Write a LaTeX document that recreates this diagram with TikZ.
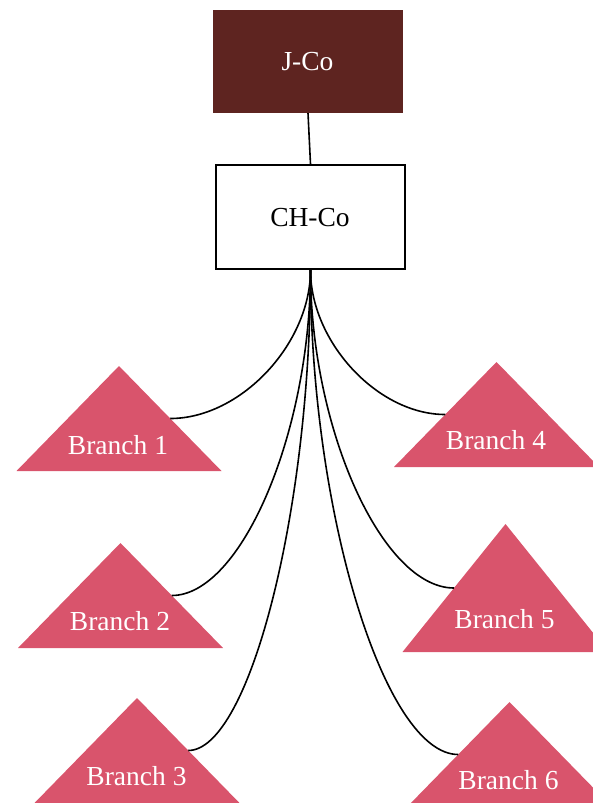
\documentclass[tikz,border=0pt]{standalone}
\usepackage{fontspec}
\setmainfont{Liberation Serif}
\usetikzlibrary{calc}

\definecolor{jcofill}{HTML}{5E2420}
\definecolor{branchfill}{HTML}{D9546C}

\tikzset{
  label font/.style={font=\fontsize{27.5}{31}\selectfont, inner sep=0pt, anchor=base},
  topbox/.style={fill=jcofill, minimum width=190pt, minimum height=103pt, inner sep=0pt},
  midbox/.style={draw=black, line width=1.8pt, fill=white, minimum width=189pt, minimum height=104pt, inner sep=0pt},
  branchtri/.style={fill=branchfill},
  branchtext/.style={label font, text=white},
  boxtext/.style={label font},
  link/.style={line width=1.6pt, draw=black},
  % quarter-ellipse-like link: leaves vertically, arrives horizontally
  bend link/.style={to path={
    .. controls ($(\tikztostart)!0.5!(\tikztostart |- \tikztotarget)$)
    and ($(\tikztotarget)!0.5!(\tikztostart |- \tikztotarget)$) .. (\tikztotarget)}}
}

\begin{document}
\begin{tikzpicture}[x=1pt, y=-1pt]
  \useasboundingbox (0,0) rectangle (593,803);

  % top boxes
  \node[topbox] (jco) at (308,61.5) {};
  \node[boxtext, text=white] (jcotext) at (307.5,70.5) {J-Co};
  \node[midbox] (chco) at (310.5,217) {};
  \node[boxtext] (chcotext) at (310,226.5) {CH-Co};

  \draw[link] (jco.south) -- (chco.north);

  % triangle apexes
  \coordinate (t1) at (119,366);
  \coordinate (t2) at (120.5,543);
  \coordinate (t3) at (137,698);
  \coordinate (t4) at (496.5,362);
  \coordinate (t5) at (505.5,524);
  \coordinate (t6) at (509.5,702);

  % triangles
  \fill[branchtri] (t1) -- ++(102.5,105) -- ++(-205,0) -- cycle;
  \fill[branchtri] (t2) -- ++(102.5,105) -- ++(-205,0) -- cycle;
  \fill[branchtri] (t3) -- ++(102.5,105) -- ++(-205,0) -- cycle;
  \fill[branchtri] (t4) -- ++(102.5,105) -- ++(-205,0) -- cycle;
  \fill[branchtri] (t5) -- ++(103,128) -- ++(-206,0) -- cycle;
  \fill[branchtri] (t6) -- ++(102.5,105) -- ++(-205,0) -- cycle;

  % link ends: middle of each triangle's inner side
  \coordinate (a1) at ($(t1)+(51.25,52.5)$);
  \coordinate (a2) at ($(t2)+(51.25,52.5)$);
  \coordinate (a3) at ($(t3)+(51.25,52.5)$);
  \coordinate (a4) at ($(t4)+(-51.25,52.5)$);
  \coordinate (a5) at ($(t5)+(-51.5,64)$);
  \coordinate (a6) at ($(t6)+(-51.25,52.5)$);

  % labels
  \node[branchtext] (b1) at (118,454) {Branch 1};
  \node[branchtext] (b2) at (120,630) {Branch 2};
  \node[branchtext] (b3) at (136.5,785) {Branch 3};
  \node[branchtext] (b4) at (496,449) {Branch 4};
  \node[branchtext] (b5) at (504.5,628) {Branch 5};
  \node[branchtext] (b6) at (508.5,789) {Branch 6};

  % links from CH-Co
  \foreach \k in {1,...,6}
    \draw[link] (chco.south) to[bend link] (a\k);
\end{tikzpicture}
\end{document}
